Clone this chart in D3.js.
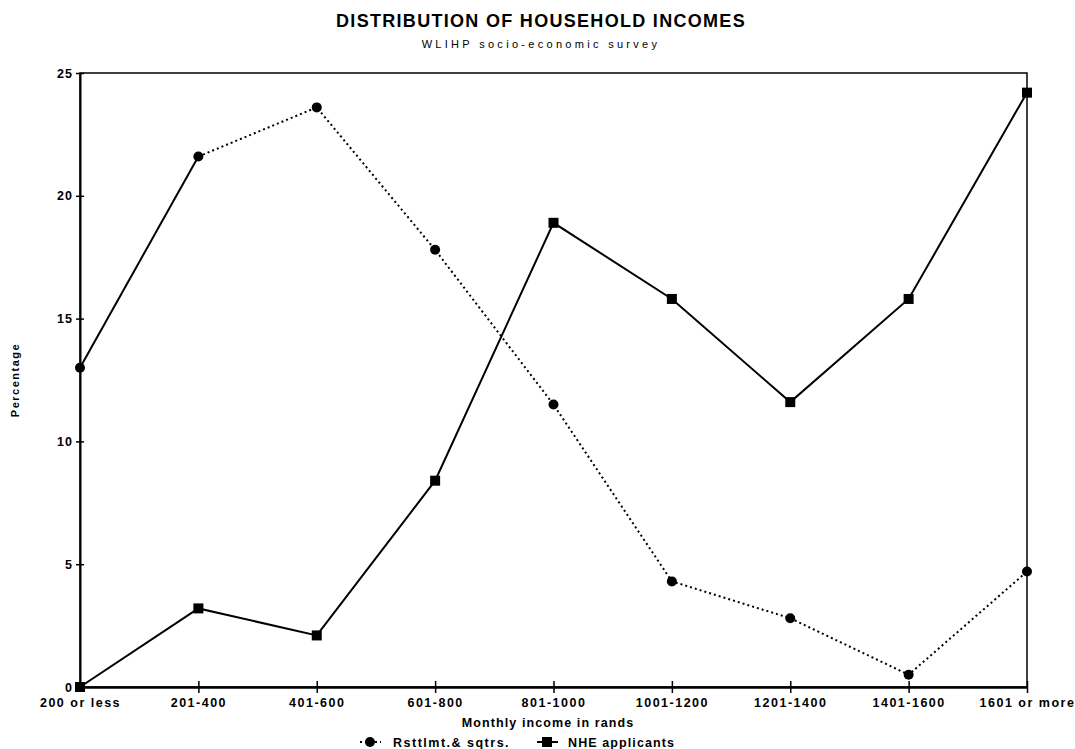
<!DOCTYPE html>
<html><head><meta charset="utf-8">
<script src="https://cdn.jsdelivr.net/npm/d3@7"></script>
<style>body{margin:0;background:#fff}text{font-family:"Liberation Sans",Arial,sans-serif;font-weight:bold;fill:#000}</style>
</head><body><svg id="c" width="1075" height="749"></svg>
<script>
const categories = ["200 or less","201-400","401-600","601-800","801-1000","1001-1200","1201-1400","1401-1600","1601 or more"];
const resettlement = [13.0,21.6,23.6,17.8,11.5,4.3,2.8,0.5,4.7];
const nheApplicants = [0,3.2,2.1,8.4,18.9,15.8,11.6,15.8,24.2];
const yTicks = [0,5,10,15,20,25];
const seriesNames = ["Rsttlmt.& sqtrs.","NHE applicants"];

const svg = d3.select("#c");
const L=80,R=1027,T=73,B=687;
const x = d3.scalePoint().domain(categories).range([L,R]);
const y = d3.scaleLinear().domain([0,25]).range([B,T]);

svg.append("text").attr("x",541).attr("y",27).attr("text-anchor","middle").style("font-size","18px").style("letter-spacing","1.3px").text("DISTRIBUTION OF HOUSEHOLD INCOMES");
svg.append("text").attr("x",541).attr("y",48).attr("text-anchor","middle").style("font-size","11px").style("letter-spacing","3.3px").style("font-weight","normal").text("WLIHP socio-economic survey");

// frame
svg.append("rect").attr("x",L).attr("y",T).attr("width",R-L).attr("height",B-T).attr("fill","none").attr("stroke","#000").attr("stroke-width",1.5);

// axes
const yAxis = d3.axisLeft(y).tickValues(yTicks).tickSize(0).tickPadding(7);
const gy = svg.append("g").attr("transform",`translate(${L},0)`).call(yAxis);
gy.select(".domain").attr("stroke","#000").attr("stroke-width",2);
gy.selectAll(".tick text").style("font-size","12.5px").style("letter-spacing","1px").style("font-family","Liberation Sans, Arial").style("font-weight","bold");
gy.selectAll(".tick").append("line").attr("x1",-4).attr("x2",4).attr("stroke","#000").attr("stroke-width",1.5);

const xAxis = d3.axisBottom(x).tickSize(0).tickPadding(11);
const gx = svg.append("g").attr("transform",`translate(0,${B})`).call(xAxis);
gx.select(".domain").attr("stroke","#000").attr("stroke-width",2.5);
gx.selectAll(".tick text").style("font-size","12.5px").style("letter-spacing","1.5px").style("font-family","Liberation Sans, Arial").style("font-weight","bold");
gx.selectAll(".tick").filter((d,i)=>i>0).append("line").attr("y1",-6).attr("y2",6).attr("stroke","#000").attr("stroke-width",1.5);

svg.append("text").attr("transform","translate(19,380) rotate(-90)").attr("text-anchor","middle").style("font-size","11px").style("letter-spacing","1.5px").text("Percentage");
svg.append("text").attr("x",548).attr("y",727).attr("text-anchor","middle").style("font-size","12.5px").style("letter-spacing","1.1px").text("Monthly income in rands");

const line = d3.line().x((d,i)=>x(categories[i])).y(d=>y(d));
// resettlement: first segment solid, remaining dotted
svg.append("path").attr("d",line(resettlement.slice(0,2))).attr("fill","none").attr("stroke","#000").attr("stroke-width",2);
const line2 = d3.line().x((d,i)=>x(categories[i+1])).y(d=>y(d));
svg.append("path").attr("d",line2(resettlement.slice(1))).attr("fill","none").attr("stroke","#000").attr("stroke-width",2).attr("stroke-dasharray","2,3");
svg.append("path").attr("d",line(nheApplicants)).attr("fill","none").attr("stroke","#000").attr("stroke-width",2);

svg.selectAll("circle.r").data(resettlement).enter().append("circle").attr("cx",(d,i)=>x(categories[i])).attr("cy",d=>y(d)).attr("r",5).attr("fill","#000");
svg.selectAll("rect.n").data(nheApplicants).enter().append("rect").attr("x",(d,i)=>x(categories[i])-5).attr("y",d=>y(d)-5).attr("width",10).attr("height",10).attr("fill","#000");

// legend
const lg = svg.append("g");
lg.append("line").attr("x1",360).attr("x2",381).attr("y1",742).attr("y2",742).attr("stroke","#000").attr("stroke-width",2).attr("stroke-dasharray","2,3");
lg.append("circle").attr("cx",370).attr("cy",742).attr("r",5).attr("fill","#000");
lg.append("text").attr("x",393).attr("y",747).style("font-size","12.5px").style("letter-spacing","1.5px").text(seriesNames[0]);
lg.append("line").attr("x1",537).attr("x2",558).attr("y1",742).attr("y2",742).attr("stroke","#000").attr("stroke-width",2);
lg.append("rect").attr("x",542).attr("y",737).attr("width",10).attr("height",10).attr("fill","#000");
lg.append("text").attr("x",568).attr("y",747).style("font-size","12.5px").style("letter-spacing","1.1px").text(seriesNames[1]);
</script></body></html>
